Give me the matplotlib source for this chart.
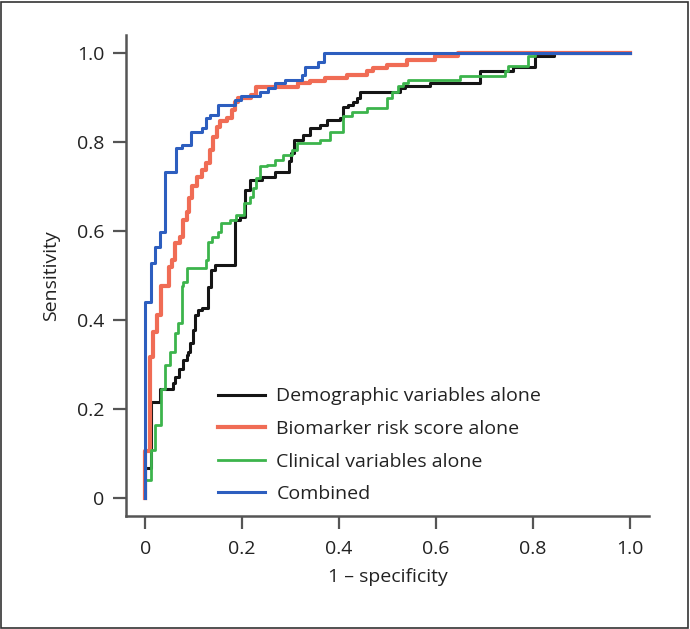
import numpy as np
import matplotlib
matplotlib.use("Agg")
import matplotlib.pyplot as plt
from matplotlib.patches import Rectangle

plt.rcParams['font.family'] = ['Open Sans', 'DejaVu Sans']

# ROC curves (corner points, steps drawn "post")
fpr_demo = [0, 0, 0.012, 0.03, 0.058, 0.062, 0.069, 0.078, 0.085, 0.088, 0.092, 0.099,
            0.102, 0.109, 0.116, 0.13, 0.135, 0.144, 0.185, 0.195, 0.205, 0.216, 0.24,
            0.268, 0.296, 0.3, 0.306, 0.326, 0.34, 0.361, 0.375, 0.402, 0.409, 0.419,
            0.429, 0.436, 0.443, 0.526, 0.536, 0.588, 0.69, 0.76, 0.804, 0.843, 1.0]
tpr_demo = [0, 0.067, 0.217, 0.244, 0.258, 0.273, 0.291, 0.31, 0.321, 0.329, 0.348, 0.378,
            0.411, 0.422, 0.426, 0.475, 0.512, 0.524, 0.625, 0.632, 0.692, 0.715, 0.72,
            0.733, 0.756, 0.775, 0.804, 0.816, 0.831, 0.838, 0.849, 0.853, 0.879, 0.883,
            0.89, 0.898, 0.913, 0.921, 0.925, 0.932, 0.96, 0.968, 0.992, 1.0, 1.0]

fpr_bio = [0, 0, 0.009, 0.016, 0.023, 0.032, 0.049, 0.054, 0.061, 0.072, 0.078, 0.085,
           0.091, 0.096, 0.106, 0.116, 0.126, 0.133, 0.14, 0.147, 0.154, 0.168, 0.178,
           0.185, 0.192, 0.219, 0.229, 0.316, 0.34, 0.371, 0.416, 0.457, 0.47, 0.498,
           0.54, 0.598, 0.646, 1.0]
tpr_bio = [0, 0.106, 0.318, 0.374, 0.411, 0.476, 0.52, 0.535, 0.572, 0.587, 0.625, 0.643,
           0.674, 0.70, 0.722, 0.737, 0.752, 0.782, 0.812, 0.834, 0.846, 0.853, 0.872,
           0.89, 0.898, 0.906, 0.924, 0.932, 0.936, 0.943, 0.951, 0.958, 0.966, 0.973,
           0.984, 0.992, 1.0, 1.0]

fpr_clin = [0, 0, 0.012, 0.02, 0.032, 0.04, 0.051, 0.061, 0.067, 0.075, 0.078, 0.087,
            0.126, 0.13, 0.137, 0.149, 0.156, 0.175, 0.188, 0.204, 0.216, 0.223, 0.229,
            0.237, 0.251, 0.268, 0.285, 0.302, 0.313, 0.361, 0.381, 0.409, 0.426, 0.457,
            0.498, 0.509, 0.522, 0.533, 0.543, 0.649, 0.742, 0.749, 0.79, 0.804, 1.0]
tpr_clin = [0, 0.04, 0.108, 0.164, 0.246, 0.299, 0.329, 0.37, 0.393, 0.476, 0.486, 0.516,
            0.535, 0.576, 0.587, 0.598, 0.617, 0.625, 0.636, 0.662, 0.677, 0.696, 0.718,
            0.745, 0.748, 0.76, 0.771, 0.782, 0.797, 0.804, 0.823, 0.857, 0.868, 0.876,
            0.898, 0.913, 0.925, 0.932, 0.939, 0.948, 0.958, 0.971, 0.992, 1.0, 1.0]

fpr_comb = [0, 0, 0.012, 0.019, 0.03, 0.04, 0.064, 0.075, 0.095, 0.116, 0.126, 0.133,
            0.15, 0.185, 0.198, 0.237, 0.254, 0.268, 0.289, 0.323, 0.33, 0.357, 0.369, 1.0]
tpr_comb = [0, 0.44, 0.528, 0.564, 0.598, 0.733, 0.786, 0.793, 0.823, 0.831, 0.854, 0.861,
            0.883, 0.894, 0.902, 0.913, 0.921, 0.932, 0.939, 0.951, 0.969, 0.98, 1.0, 1.0]

labels = ['Demographic variables alone', 'Biomarker risk score alone',
          'Clinical variables alone', 'Combined']
ticks = [0, 0.2, 0.4, 0.6, 0.8, 1.0]
tick_labels = ['0', '0.2', '0.4', '0.6', '0.8', '1.0']

fig = plt.figure(figsize=(6.9, 6.29), dpi=100)
ax = fig.add_axes([0.1826, 0.1797, 0.758, 0.7647])

ax.plot(fpr_demo, tpr_demo, drawstyle='steps-post', color='#151515', lw=2.2, label=labels[0])
ax.plot(fpr_bio, tpr_bio, drawstyle='steps-post', color='#f06c55', lw=3.0, label=labels[1])
ax.plot(fpr_clin, tpr_clin, drawstyle='steps-post', color='#3cb44c', lw=2.0, label=labels[2])
ax.plot(fpr_comb, tpr_comb, drawstyle='steps-post', color='#2d5ebf', lw=2.2, label=labels[3])

ax.set_xlim(-0.04, 1.04)
ax.set_ylim(-0.04, 1.04)
ax.set_xticks(ticks)
ax.set_xticklabels(tick_labels)
ax.set_yticks(ticks)
ax.set_yticklabels(tick_labels)
for s in ['top', 'right']:
    ax.spines[s].set_visible(False)
for s in ['left', 'bottom']:
    ax.spines[s].set_color('#555555')
    ax.spines[s].set_linewidth(1.8)
ax.tick_params(axis='both', direction='out', length=9.5, width=1.6, color='#555555',
               labelsize=14, labelcolor='#222222')
ax.tick_params(axis='x', pad=8)
ax.tick_params(axis='y', pad=6)

ax.set_xlabel('1 – specificity', fontsize=14, color='#222222', labelpad=7)
ax.set_ylabel('Sensitivity', fontsize=14, color='#222222', labelpad=12)

leg = ax.legend(loc='upper left', bbox_to_anchor=(0.316, 0.384), bbox_transform=fig.transFigure,
                frameon=False, fontsize=14, handlelength=2.4, handletextpad=0.6,
                labelspacing=0.75, borderpad=0, borderaxespad=0)
for t in leg.get_texts():
    t.set_color('#222222')

fig.patches.append(Rectangle((0.002, 0.002), 0.995, 0.995, transform=fig.transFigure,
                             fill=False, edgecolor='#333333', lw=1.2))

fig.savefig('out.png', dpi=100)
